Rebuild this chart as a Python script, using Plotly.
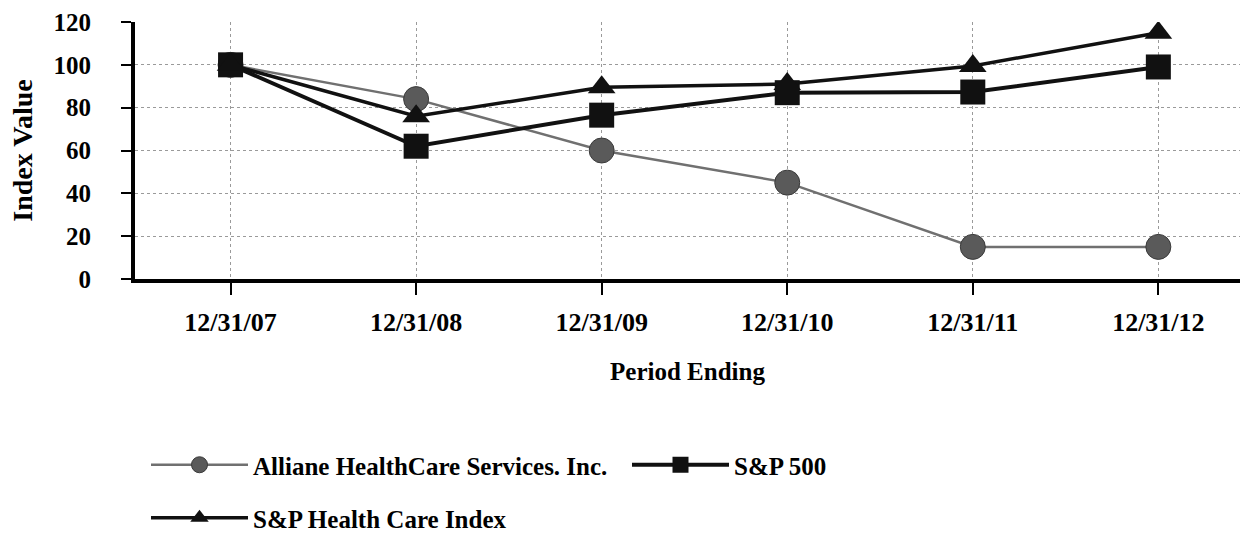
import plotly.graph_objects as go

periods = ["12/31/07", "12/31/08", "12/31/09", "12/31/10", "12/31/11", "12/31/12"]
alliance = [100, 84, 60, 45, 15, 15]
sp500 = [100, 62, 76.5, 87, 87.3, 99]
sp_health = [100, 76, 89.5, 91, 99.5, 115]
y_ticks = [0, 20, 40, 60, 80, 100, 120]

FONT = "'Liberation Serif', 'Times New Roman', Times, serif"

fig = go.Figure()
fig.add_trace(go.Scatter(
    x=periods, y=alliance, mode="lines+markers",
    name="Alliane HealthCare Services. Inc.",
    line=dict(color="#707070", width=2.5),
    marker=dict(symbol="circle", size=25, color="#5a5a5a", line=dict(color="#3a3a3a", width=1)),
    legend="legend",
))
fig.add_trace(go.Scatter(
    x=periods, y=sp500, mode="lines+markers",
    name="S&P 500",
    line=dict(color="#111111", width=4),
    marker=dict(symbol="square", size=25, color="#111111"),
    legend="legend",
))
fig.add_trace(go.Scatter(
    x=periods, y=sp_health, mode="lines+markers",
    name="S&P Health Care Index",
    line=dict(color="#111111", width=3.5),
    marker=dict(symbol="triangle-up", size=24, color="#111111"),
    legend="legend2",
))

legend_common = dict(
    orientation="h",
    xref="container", yref="container",
    xanchor="left", yanchor="middle",
    font=dict(family=FONT, size=25, color="black", weight="bold"),
    itemwidth=97,
    bgcolor="rgba(0,0,0,0)",
    itemclick=False, itemdoubleclick=False,
)

fig.update_layout(
    width=1240, height=546,
    margin=dict(l=135, r=0, t=22, b=267, autoexpand=False),
    paper_bgcolor="white", plot_bgcolor="white",
    font=dict(family=FONT, size=25, color="black", weight="bold"),
    showlegend=True,
    legend=dict(**legend_common, x=146 / 1240, y=(546 - 465) / 546, entrywidth=369),
    legend2=dict(**legend_common, x=146 / 1240, y=(546 - 518) / 546),
    xaxis=dict(
        type="category", categoryorder="array", categoryarray=periods,
        range=[-0.515, 5.44], automargin=False,
        showline=True, linecolor="black", linewidth=4,
        ticks="outside", ticklen=12, tickwidth=2, tickcolor="black",
        ticklabelstandoff=5,
        showgrid=True, gridcolor="#9a9a9a", gridwidth=1, griddash="dot",
        tickfont=dict(family=FONT, size=26, color="black", weight="bold"),
        title=dict(text="Period Ending", standoff=27,
                   font=dict(family=FONT, size=25, color="black", weight="bold")),
        zeroline=False, fixedrange=True,
    ),
    yaxis=dict(
        range=[0, 120], tickvals=y_ticks, automargin=False,
        showline=True, linecolor="black", linewidth=4,
        ticks="outside", ticklen=10, tickwidth=2, tickcolor="black",
        ticklabelstandoff=25,
        showgrid=True, gridcolor="#9a9a9a", gridwidth=1, griddash="dot",
        tickfont=dict(family=FONT, size=25, color="black", weight="bold"),
        title=dict(text="Index Value", standoff=14,
                   font=dict(family=FONT, size=28, color="black", weight="bold")),
        zeroline=False, fixedrange=True,
    ),
)

fig.write_html("out.html", config={"displayModeBar": False},
               post_script="document.body.style.margin='0';")
